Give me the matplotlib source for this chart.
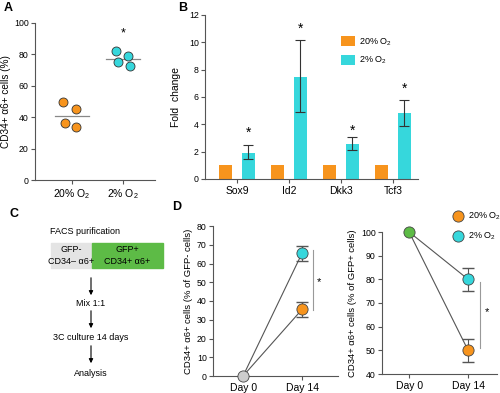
import matplotlib
matplotlib.use('Agg')
import matplotlib.pyplot as plt

plt.rcParams['font.family'] = ['Liberation Sans', 'DejaVu Sans']
plt.rcParams['mathtext.default'] = 'regular'

ORANGE = '#F7941D'
CYAN = '#36D7DC'
GREEN = '#5DBB46'
GRAY = '#E4E4E4'

# panel A: individual samples
a_x20 = [-0.18, 0.08, -0.14, 0.08]
a_y20 = [49.5, 45, 36, 33.5]
a_x2 = [0.86, 0.9, 1.1, 1.14]
a_y2 = [82, 75, 79, 72.5]
a_mean = [41, 77]
a_labels = ['20% O$_2$', '2% O$_2$']

# panel B: fold change
genes = ['Sox9', 'Id2', 'Dkk3', 'Tcf3']
fold20 = [1, 1, 1, 1]
fold2 = [1.9, 7.45, 2.55, 4.8]
fold2_lo = [1.45, 4.9, 2.1, 3.9]
fold2_hi = [2.5, 10.15, 3.05, 5.8]
star_y = [3.4, 11.0, 3.5, 6.6]

# panel D
days = ['Day 0', 'Day 14']
gfpneg_20 = [0, 35.5]
gfpneg_2 = [0, 65.5]
gfpneg_err = [0, 4]
gfppos_20 = [100, 50]
gfppos_2 = [100, 80]
gfppos_err = [0, 5]

W, H = 500, 393
fig = plt.figure(figsize=(W / 100, H / 100), dpi=100)


def rect(x0, y0, x1, y1):
    return [x0 / W, 1 - y1 / H, (x1 - x0) / W, (y1 - y0) / H]


def style(ax):
    for s in ['top', 'right']:
        ax.spines[s].set_visible(False)
    for s in ['left', 'bottom']:
        ax.spines[s].set_color('#555555')
        ax.spines[s].set_linewidth(0.8)
    ax.tick_params(length=3, width=0.8, color='#555555', labelsize=6.3, pad=1.5)
    ax.tick_params(axis='x', labelsize=7.5, pad=2)


# ---- A ----
ax = fig.add_axes(rect(35, 23, 155, 180))
style(ax)
ax.scatter(a_x20, a_y20, s=42, color=ORANGE, edgecolor='#333333', linewidth=0.6, zorder=3)
ax.scatter(a_x2, a_y2, s=42, color=CYAN, edgecolor='#333333', linewidth=0.6, zorder=3)
for i, m in enumerate(a_mean):
    ax.plot([i - 0.33, i + 0.33], [m, m], color='#888888', lw=0.9)
ax.text(1, 93.5, '*', ha='center', va='center', fontsize=9)
ax.set_xlim(-0.725, 1.63)
ax.set_ylim(0, 100)
ax.set_yticks([0, 20, 40, 60, 80, 100])
ax.set_xticks([0, 1])
ax.set_xticklabels(a_labels)
ax.set_ylabel('CD34+ α6+ cells (%)', fontsize=7.2, labelpad=2)

# ---- B ----
ax = fig.add_axes(rect(205, 15, 418, 179))
style(ax)
xs = range(len(genes))
ax.bar([x - 0.22 for x in xs], fold20, width=0.26, color=ORANGE, label='20% O$_2$')
err = [[v - lo for v, lo in zip(fold2, fold2_lo)], [hi - v for v, hi in zip(fold2, fold2_hi)]]
ax.bar([x + 0.22 for x in xs], fold2, width=0.26, color=CYAN, label='2% O$_2$',
       yerr=err, error_kw=dict(ecolor='#333333', elinewidth=0.8, capsize=3.5, capthick=0.8))
for x, y in zip(xs, star_y):
    ax.text(x + 0.22, y, '*', ha='center', va='center', fontsize=10)
ax.set_xlim(-0.615, 3.48)
ax.set_ylim(0, 12)
ax.set_yticks(range(0, 13, 2))
ax.set_xticks(list(xs))
ax.set_xticklabels(genes)
ax.set_ylabel('Fold  change', fontsize=7.5, labelpad=6)
ax.legend(loc='upper left', bbox_to_anchor=(0.6, 0.92), frameon=False, fontsize=6.5,
          handlelength=1.6, handleheight=1.3, labelspacing=0.8, handletextpad=0.4)

# ---- C (schematic) ----
axc = fig.add_axes([0, 0, 1, 1])
axc.set_xlim(0, W)
axc.set_ylim(H, 0)
axc.axis('off')
axc.text(85, 232, 'FACS purification', ha='center', va='center', fontsize=6.5)
axc.add_patch(plt.Rectangle((51, 243), 41, 25, color=GRAY))
axc.add_patch(plt.Rectangle((92, 243), 71, 25, color=GREEN))
axc.text(71, 255.5, 'GFP-\nCD34– α6+', ha='center', va='center', fontsize=6.5, linespacing=1.3)
axc.text(127, 255.5, 'GFP+\nCD34+ α6+', ha='center', va='center', fontsize=6.5, linespacing=1.3)
for y0, y1 in [(275, 298), (308, 331), (343, 366)]:
    axc.annotate('', xy=(91, y1), xytext=(91, y0),
                 arrowprops=dict(arrowstyle='-|>', color='black', lw=0.8, mutation_scale=6))
axc.text(91, 303, 'Mix 1:1', ha='center', va='center', fontsize=6.5)
axc.text(91, 338, '3C culture 14 days', ha='center', va='center', fontsize=6.5)
axc.text(91, 374, 'Analysis', ha='center', va='center', fontsize=6.5)

for lab, x, y in [('A', 4, 8), ('B', 178, 8), ('C', 10, 214), ('D', 172, 207)]:
    axc.text(x, y, lab, ha='left', va='center', fontsize=9, fontweight='bold')

# ---- D left ----
ax = fig.add_axes(rect(213, 226, 338, 376))
style(ax)
ax.plot([0, 1], gfpneg_2, color='#555555', lw=0.8, zorder=1)
ax.plot([0, 1], gfpneg_20, color='#555555', lw=0.8, zorder=1)
ax.errorbar([1], gfpneg_2[1:], yerr=gfpneg_err[1:], fmt='none', ecolor='#555555', elinewidth=0.8, capsize=4)
ax.errorbar([1], gfpneg_20[1:], yerr=gfpneg_err[1:], fmt='none', ecolor='#555555', elinewidth=0.8, capsize=4)
ax.scatter([1], gfpneg_2[1:], s=65, color=CYAN, edgecolor='#444444', linewidth=0.6, zorder=3)
ax.scatter([1], gfpneg_20[1:], s=65, color=ORANGE, edgecolor='#444444', linewidth=0.6, zorder=3)
ax.scatter([0], gfpneg_20[:1], s=65, color='#CCCCCC', edgecolor='#444444', linewidth=0.6, zorder=3, clip_on=False)
ax.plot([1.19, 1.19], [35, 67], color='#999999', lw=0.8)
ax.text(1.29, 50, '*', ha='center', va='center', fontsize=8)
ax.set_xlim(-0.51, 1.61)
ax.set_ylim(0, 80)
ax.set_yticks(range(0, 81, 10))
ax.set_xticks([0, 1])
ax.set_xticklabels(days)
ax.set_ylabel('CD34+ α6+ cells (% of GFP- cells)', fontsize=6.8, labelpad=3)

# ---- D right ----
ax = fig.add_axes(rect(382, 232, 497, 374))
style(ax)
ax.plot([0, 1], gfppos_2, color='#555555', lw=0.8, zorder=1)
ax.plot([0, 1], gfppos_20, color='#555555', lw=0.8, zorder=1)
ax.errorbar([1], gfppos_2[1:], yerr=gfppos_err[1:], fmt='none', ecolor='#555555', elinewidth=0.8, capsize=4)
ax.errorbar([1], gfppos_20[1:], yerr=gfppos_err[1:], fmt='none', ecolor='#555555', elinewidth=0.8, capsize=4)
ax.scatter([1], gfppos_2[1:], s=65, color=CYAN, edgecolor='#444444', linewidth=0.6, zorder=3, label='2% O$_2$')
ax.scatter([1], gfppos_20[1:], s=65, color=ORANGE, edgecolor='#444444', linewidth=0.6, zorder=3, label='20% O$_2$')
ax.scatter([0], gfppos_20[:1], s=65, color=GREEN, edgecolor='#444444', linewidth=0.6, zorder=3, clip_on=False)
ax.plot([1.2, 1.2], [51, 79], color='#999999', lw=0.8)
ax.text(1.32, 66, '*', ha='center', va='center', fontsize=8)
ax.set_xlim(-0.46, 1.49)
ax.set_ylim(40, 100)
ax.set_yticks(range(40, 101, 10))
ax.set_xticks([0, 1])
ax.set_xticklabels(days)
ax.set_ylabel('CD34+ α6+ cells (% of GFP+ cells)', fontsize=6.8, labelpad=3)
h, l = ax.get_legend_handles_labels()
ax.legend(h[::-1], l[::-1], loc='upper left', bbox_to_anchor=(0.55, 1.18), frameon=False,
          fontsize=6.5, handletextpad=0.1, labelspacing=1.0, borderaxespad=0)

fig.savefig('out.png', dpi=100)
